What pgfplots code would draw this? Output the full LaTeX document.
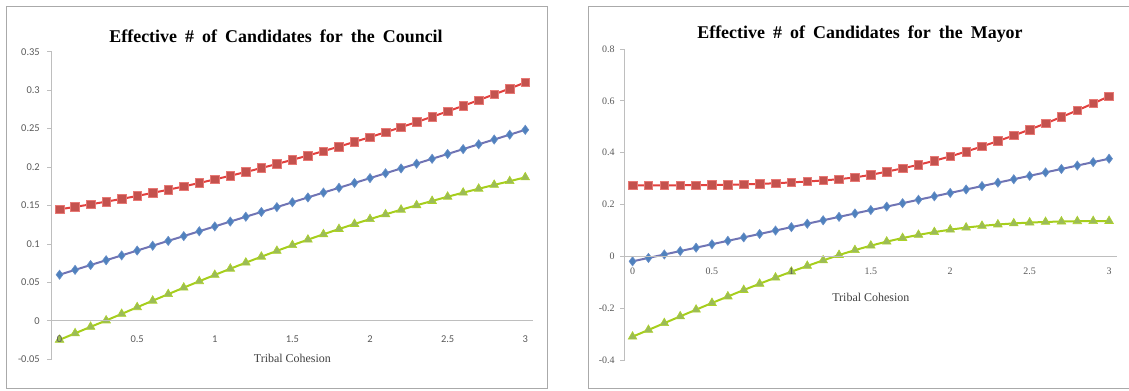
\documentclass[border=0pt]{standalone}
\usepackage{fontspec}
\setmainfont{Liberation Serif}
\newfontfamily\calibri{Carlito}
\newfontfamily\titlefont[WordSpace=1.8]{Liberation Serif}
\usepackage{pgfplots}
\usepackage{pgfplotstable}
\pgfplotsset{compat=1.18}

\definecolor{redline}{RGB}{226,64,62}
\definecolor{redfill}{RGB}{196,82,78}
\definecolor{rededge}{RGB}{232,120,116}
\definecolor{blueline}{RGB}{112,116,180}
\definecolor{bluefill}{RGB}{79,129,189}
\definecolor{blueedge}{RGB}{104,142,200}
\definecolor{greenline}{RGB}{166,206,28}
\definecolor{greenfill}{RGB}{155,187,89}
\definecolor{greenedge}{RGB}{172,210,40}
\definecolor{axisgray}{RGB}{190,190,190}
\definecolor{framegray}{RGB}{170,170,170}
\definecolor{ticktext}{RGB}{89,89,89}

% Council: x = tribal cohesion, one column per series
\pgfplotstableread{
x    blue    red     green
0.0  0.0600  0.1450  -0.0247
0.1  0.0663  0.1482  -0.0162
0.2  0.0726  0.1515  -0.0078
0.3  0.0788  0.1550   0.0005
0.4  0.0851  0.1586   0.0090
0.5  0.0914  0.1624   0.0177
0.6  0.0977  0.1664   0.0262
0.7  0.1040  0.1705   0.0347
0.8  0.1102  0.1748   0.0432
0.9  0.1165  0.1793   0.0515
1.0  0.1228  0.1839   0.0597
1.1  0.1291  0.1887   0.0678
1.2  0.1354  0.1936   0.0757
1.3  0.1416  0.1987   0.0834
1.4  0.1479  0.2040   0.0910
1.5  0.1542  0.2094   0.0984
1.6  0.1605  0.2150   0.1056
1.7  0.1668  0.2207   0.1126
1.8  0.1730  0.2266   0.1194
1.9  0.1793  0.2327   0.1260
2.0  0.1856  0.2389   0.1323
2.1  0.1919  0.2453   0.1385
2.2  0.1982  0.2518   0.1445
2.3  0.2044  0.2585   0.1503
2.4  0.2107  0.2654   0.1559
2.5  0.2170  0.2724   0.1614
2.6  0.2233  0.2796   0.1667
2.7  0.2296  0.2870   0.1718
2.8  0.2358  0.2945   0.1768
2.9  0.2421  0.3021   0.1816
3.0  0.2484  0.3100   0.1866
}\council

% Mayor
\pgfplotstableread{
x    blue     red     green
0.0  -0.0193  0.2740  -0.3100
0.1  -0.0061  0.2740  -0.2840
0.2   0.0071  0.2741  -0.2578
0.3   0.0203  0.2743  -0.2316
0.4   0.0335  0.2746  -0.2058
0.5   0.0467  0.2752  -0.1800
0.6   0.0599  0.2762  -0.1548
0.7   0.0731  0.2776  -0.1300
0.8   0.0863  0.2795  -0.1058
0.9   0.0995  0.2820  -0.0820
1.0   0.1127  0.2852  -0.0592
1.1   0.1259  0.2888  -0.0370
1.2   0.1391  0.2928  -0.0155
1.3   0.1523  0.2978   0.0050
1.4   0.1655  0.3045   0.0240
1.5   0.1787  0.3145   0.0412
1.6   0.1919  0.3268   0.0568
1.7   0.2051  0.3395   0.0706
1.8   0.2183  0.3532   0.0828
1.9   0.2315  0.3689   0.0935
2.0   0.2447  0.3856   0.1030
2.1   0.2579  0.4043   0.1110
2.2   0.2711  0.4240   0.1176
2.3   0.2843  0.4447   0.1229
2.4   0.2975  0.4664   0.1271
2.5   0.3107  0.4891   0.1303
2.6   0.3239  0.5128   0.1327
2.7   0.3371  0.5375   0.1344
2.8   0.3503  0.5632   0.1355
2.9   0.3635  0.5899   0.1361
3.0   0.3767  0.6176   0.1363
}\mayor

\pgfplotsset{
  cohesion/.style={
    scale only axis,
    anchor=south west,
    axis on top,
    clip=false,
    clip marker paths=true,
    xmin=-0.05, xmax=3.05,
    axis x line=middle,
    axis y line=left,
    axis line style={draw=axisgray, line width=0.8bp, -},
    every inner x axis line/.append style={-},
    hide obscured x ticks=false,
    hide obscured y ticks=false,
    tick align=outside,
    major tick length=4.5bp,
    tick style={draw=axisgray, line width=0.8bp},
    xtick={0,0.5,1,1.5,2,2.5,3},
    xticklabels={0,0.5,1,1.5,2,2.5,3},
    xtick style={draw=none},
    extra x ticks={0.45,0.95,1.45,1.95,2.45,2.95},
    extra x tick labels={},
    extra x tick style={tick style={draw=axisgray, line width=0.8bp}},
    xlabel={Tribal Cohesion},
    xlabel style={font=\fontsize{12}{14}\selectfont, text=black!75, anchor=center},
    title style={font=\titlefont\fontsize{18}{21}\selectfont\bfseries, anchor=center},
  },
  redser/.style={draw=redline, line width=2bp, mark=square*, mark size=4.3bp,
    mark options={fill=redfill, draw=rededge, line width=0.6bp}},
  blueser/.style={draw=blueline, line width=2bp, mark=diamond*, mark size=4.6bp,
    mark options={fill=bluefill, draw=blueedge, line width=0.6bp}},
  greenser/.style={draw=greenline, line width=2bp, mark=triangle*, mark size=5bp,
    mark options={fill=greenfill, draw=greenedge, line width=0.6bp}},
}

\begin{document}
\begin{tikzpicture}[x=1bp, y=1bp]
\useasboundingbox (0,0) rectangle (1129,390);
% chart frames
\draw[framegray, line width=1bp] (6.4,1.5) rectangle (547,383);
\draw[framegray, line width=1bp] (588,2) rectangle (1140,383);

\begin{axis}[cohesion,
  at={(51.8bp,30.7bp)}, width=481.2bp, height=307.6bp,
  ymin=-0.05, ymax=0.35,
  ytick={-0.05,0,0.05,0.1,0.15,0.2,0.25,0.3,0.35},
  yticklabels={-0.05,0,0.05,0.1,0.15,0.2,0.25,0.3,0.35},
  yticklabel style={font=\calibri\fontsize{10.5}{12}\selectfont, text=ticktext, xshift=-4bp},
  xticklabel style={font=\calibri\fontsize{10.5}{12}\selectfont, text=ticktext, yshift=-7bp},
  xlabel style={at={(axis description cs:0.5,0.125)}, yshift=-38bp},
  title={Effective \# of Candidates for the Council},
  title style={at={(axis description cs:0.466,1.054)}, yshift=-7bp},
]
\addplot[redser] table[x=x, y=red] {\council};
\addplot[blueser] table[x=x, y=blue] {\council};
\addplot[greenser] table[x=x, y=green] {\council};
\end{axis}

\begin{axis}[cohesion,
  at={(624.6bp,30bp)}, width=492.4bp, height=311bp,
  ymin=-0.4, ymax=0.8,
  ytick={-0.4,-0.2,0,0.2,0.4,0.6,0.8},
  yticklabels={-0.4,-0.2,0,0.2,0.4,0.6,0.8},
  yticklabel style={font=\fontsize{10}{12}\selectfont, text=ticktext, xshift=-2bp},
  xticklabel style={font=\fontsize{10}{12}\selectfont, text=ticktext, yshift=-4bp},
  xlabel style={at={(axis description cs:0.5,0.3333)}, yshift=-41bp},
  title={Effective \# of Candidates for the Mayor},
  title style={at={(axis description cs:0.478,1.051)}, yshift=-7bp},
]
\addplot[redser] table[x=x, y=red] {\mayor};
\addplot[blueser] table[x=x, y=blue] {\mayor};
\addplot[greenser] table[x=x, y=green] {\mayor};
\end{axis}
\end{tikzpicture}
\end{document}
